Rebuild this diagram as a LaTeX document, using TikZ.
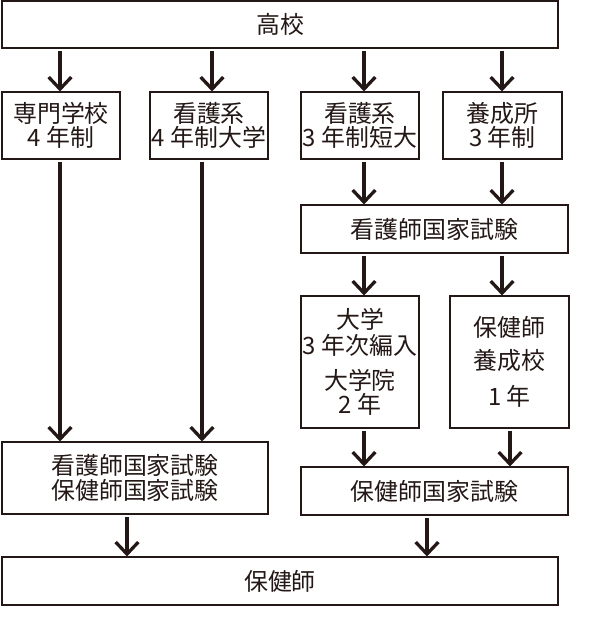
\documentclass[tikz,border=0pt]{standalone}
\usepackage{xcolor}
\usepackage{fontspec}
\newfontfamily\jpfont{Noto Sans CJK JP}
\usepackage{tikz}
\usetikzlibrary{arrows.meta}

\definecolor{ink}{HTML}{231815}

\begin{document}
\begin{tikzpicture}[
  box/.style={
    draw=ink,
    line width=0.9pt,
    align=center,
    inner xsep=1pt,
    inner ysep=0pt,
    text=ink,
    font=\jpfont\fontsize{20.4pt}{21pt}\selectfont
  },
  arrow/.style={-{Straight Barb[length=0.36cm,width=0.68cm]}, line width=2.8pt, draw=ink, shorten <=2pt}
]
  \useasboundingbox (0,0) rectangle (17.64,-18.54);

  \node[box, minimum width=16.68cm, minimum height=1.41cm] (koko) at (8.40,-0.735) {高校};

  \node[box, minimum width=3.54cm, minimum height=2.01cm] (senmon) at (1.83,-3.765) {専門学校\\4 年制};
  \node[box, minimum width=3.54cm, minimum height=2.01cm] (daigaku) at (6.27,-3.765) {看護系\\4 年制大学};
  \node[box, minimum width=3.54cm, minimum height=2.01cm] (tandai) at (10.80,-3.765) {看護系\\3 年制短大};
  \node[box, minimum width=3.57cm, minimum height=2.01cm] (yoseijo) at (15.075,-3.765) {養成所\\3 年制};

  \node[box, minimum width=8.01cm, minimum height=1.44cm] (kangoshiken) at (13.035,-6.87) {看護師国家試験};

  \node[box, minimum width=3.54cm, minimum height=3.96cm] (hennyu) at (10.80,-10.86) {大学\\[1pt]3 年次編入\\[9pt]大学院\\2 年};
  \node[box, minimum width=3.57cm, minimum height=3.96cm] (yoseiko) at (15.285,-10.86) {保健師\\[7pt]養成校\\[10pt]1 年};

  \node[box, minimum width=7.98cm, minimum height=2.16cm] (ryoho) at (4.05,-14.34) {看護師国家試験\\保健師国家試験};
  \node[box, minimum width=8.01cm, minimum height=1.44cm] (hokenshiken) at (13.035,-14.73) {保健師国家試験};

  \node[box, minimum width=16.68cm, minimum height=1.44cm] (hokenshi) at (8.40,-17.43) {保健師};

  % from high school
  \draw[arrow] ([xshift=-0.03cm]senmon.north |- koko.south) -- ([xshift=-0.03cm]senmon.north);
  \draw[arrow] ([xshift=0.09cm]daigaku.north |- koko.south) -- ([xshift=0.09cm]daigaku.north);
  \draw[arrow] ([xshift=0.12cm]tandai.north |- koko.south) -- ([xshift=0.12cm]tandai.north);
  \draw[arrow] ([xshift=-0.015cm]yoseijo.north |- koko.south) -- ([xshift=-0.015cm]yoseijo.north);

  % four-year courses
  \draw[arrow] ([xshift=-0.03cm]senmon.south) -- ([xshift=-0.03cm]senmon.south |- ryoho.north);
  \draw[arrow] ([xshift=-0.21cm]daigaku.south) -- ([xshift=-0.21cm]daigaku.south |- ryoho.north);

  % three-year courses
  \draw[arrow] ([xshift=0.12cm]tandai.south) -- ([xshift=0.12cm]tandai.south |- kangoshiken.north);
  \draw[arrow] ([xshift=-0.015cm]yoseijo.south) -- ([xshift=-0.015cm]yoseijo.south |- kangoshiken.north);
  \draw[arrow] ([xshift=0.12cm]hennyu.north |- kangoshiken.south) -- ([xshift=0.12cm]hennyu.north);
  \draw[arrow] ([xshift=-0.225cm]yoseiko.north |- kangoshiken.south) -- ([xshift=-0.225cm]yoseiko.north);
  \draw[arrow] ([xshift=0.12cm]hennyu.south) -- ([xshift=0.12cm]hennyu.south |- hokenshiken.north);
  \draw[arrow] ([xshift=0.015cm]yoseiko.south) -- ([xshift=0.015cm]yoseiko.south |- hokenshiken.north);

  % to public health nurse
  \draw[arrow] ([xshift=-0.24cm]ryoho.south) -- ([xshift=-0.24cm]ryoho.south |- hokenshi.north);
  \draw[arrow] ([xshift=-0.225cm]hokenshiken.south) -- ([xshift=-0.225cm]hokenshiken.south |- hokenshi.north);
\end{tikzpicture}
\end{document}
